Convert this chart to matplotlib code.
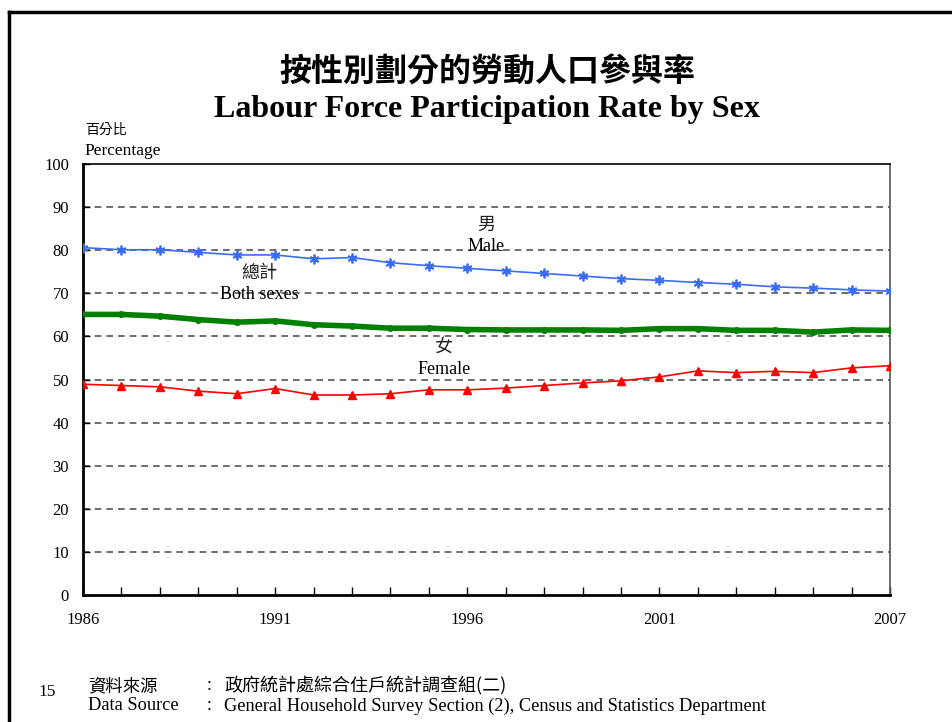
import matplotlib.pyplot as plt
from matplotlib.lines import Line2D

plt.rcParams['font.family'] = ['Liberation Serif', 'Noto Sans CJK TC']

# Data
years = list(range(1986, 2008))
male = [80.6, 80.1, 80.1, 79.5, 78.9, 78.9, 78.0, 78.3, 77.1, 76.4, 75.8,
        75.2, 74.6, 74.0, 73.4, 73.0, 72.5, 72.1, 71.5, 71.2, 70.8, 70.5]
both = [65.1, 65.1, 64.7, 63.9, 63.3, 63.6, 62.7, 62.4, 61.9, 61.9, 61.6,
        61.5, 61.5, 61.5, 61.4, 61.8, 61.8, 61.4, 61.4, 61.0, 61.5, 61.4]
female = [48.9, 48.6, 48.3, 47.3, 46.7, 47.9, 46.4, 46.4, 46.7, 47.6, 47.6,
          48.0, 48.6, 49.2, 49.7, 50.6, 52.0, 51.6, 51.9, 51.6, 52.7, 53.2]
xtick_years = [1986, 1991, 1996, 2001, 2007]
yticks = list(range(0, 101, 10))

cjk = ['Noto Sans CJK TC', 'Liberation Serif']
serif = ['Liberation Serif', 'Noto Sans CJK TC']

fig = plt.figure(figsize=(9.53, 7.22), dpi=100)
ax = fig.add_axes([83 / 953, 1 - 595 / 722, 807 / 953, 431 / 722])

# page border (left and top)
fig.add_artist(Line2D([9 / 953, 9 / 953], [0, 1 - 12 / 722], color='black', lw=2.5))
fig.add_artist(Line2D([9 / 953, 1], [1 - 12 / 722, 1 - 12 / 722], color='black', lw=2.5))

for y in yticks[1:-1]:
    ax.axhline(y, color='#555555', lw=1.2, ls=(0, (4, 3)), zorder=1)

ax.plot(years, male, color='#3a6cf4', lw=1.2, marker=(6, 2, 0), ms=7, mew=1.3, zorder=3)
ax.plot(years, both, color='#008000', lw=4, marker='o', ms=4, zorder=3)
ax.plot(years, female, color='#ff0000', lw=1.2, marker='^', ms=6, zorder=3)

ax.set_xlim(1986, 2007)
ax.set_ylim(0, 100)
ax.set_yticks(yticks)
ax.set_xticks(years, minor=False)
ax.set_xticklabels([str(y) if y in xtick_years else '' for y in years])
ax.tick_params(axis='x', direction='in', length=6, width=1, pad=12, labelsize=12)
ax.tick_params(axis='y', direction='in', length=5, width=1, pad=10, labelsize=12)

ax.spines['left'].set_linewidth(2)
ax.spines['bottom'].set_linewidth(2)
ax.spines['top'].set_linewidth(1.2)
ax.spines['right'].set_color('#555555')
ax.spines['right'].set_linewidth(1.2)

# series labels
ax.text(1996.5, 85.8, '男', family=cjk, fontsize=13, ha='center', va='center', color='#222222')
ax.text(1996.5, 80.8, 'Male', family=serif, fontsize=13, ha='center', va='center')
ax.text(1990.6, 74.8, '總計', family=cjk, fontsize=13, ha='center', va='center', color='#222222')
ax.text(1990.6, 69.8, 'Both sexes', family=serif, fontsize=13, ha='center', va='center')
ax.text(1995.4, 57.5, '女', family=cjk, fontsize=13, ha='center', va='center', color='#222222')
ax.text(1995.4, 52.3, 'Female', family=serif, fontsize=13, ha='center', va='center')

# titles
fig.text(487 / 953, 1 - 73 / 722, '按性別劃分的勞動人口參與率', family=cjk, fontsize=23,
         fontweight='bold', ha='center', va='center')
fig.text(487 / 953, 1 - 110 / 722, 'Labour Force Participation Rate by Sex', family=serif,
         fontsize=23, fontweight='bold', ha='center', va='center')
fig.text(85 / 953, 1 - 130 / 722, '百分比', family=cjk, fontsize=10, ha='left', va='center')
fig.text(84 / 953, 1 - 151 / 722, 'Percentage', family=serif, fontsize=12.5, ha='left', va='center')

# footer
fig.text(38 / 953, 1 - 692 / 722, '15', family=serif, fontsize=12.5, ha='left', va='center')
fig.text(88 / 953, 1 - 686 / 722, '資料來源', family=cjk, fontsize=12.5, ha='left', va='center')
fig.text(207 / 953, 1 - 686 / 722, ':', family=serif, fontsize=13, ha='left', va='center')
fig.text(224 / 953, 1 - 686 / 722, '政府統計處綜合住戶統計調查組(二)', family=cjk, fontsize=13,
         ha='left', va='center')
fig.text(88 / 953, 1 - 706 / 722, 'Data Source', family=serif, fontsize=13.2, ha='left', va='center')
fig.text(207 / 953, 1 - 706 / 722, ':', family=serif, fontsize=13, ha='left', va='center')
fig.text(224 / 953, 1 - 706 / 722, 'General Household Survey Section (2), Census and Statistics Department',
         family=serif, fontsize=13.2, ha='left', va='center')

fig.savefig('out.png', dpi=100)
